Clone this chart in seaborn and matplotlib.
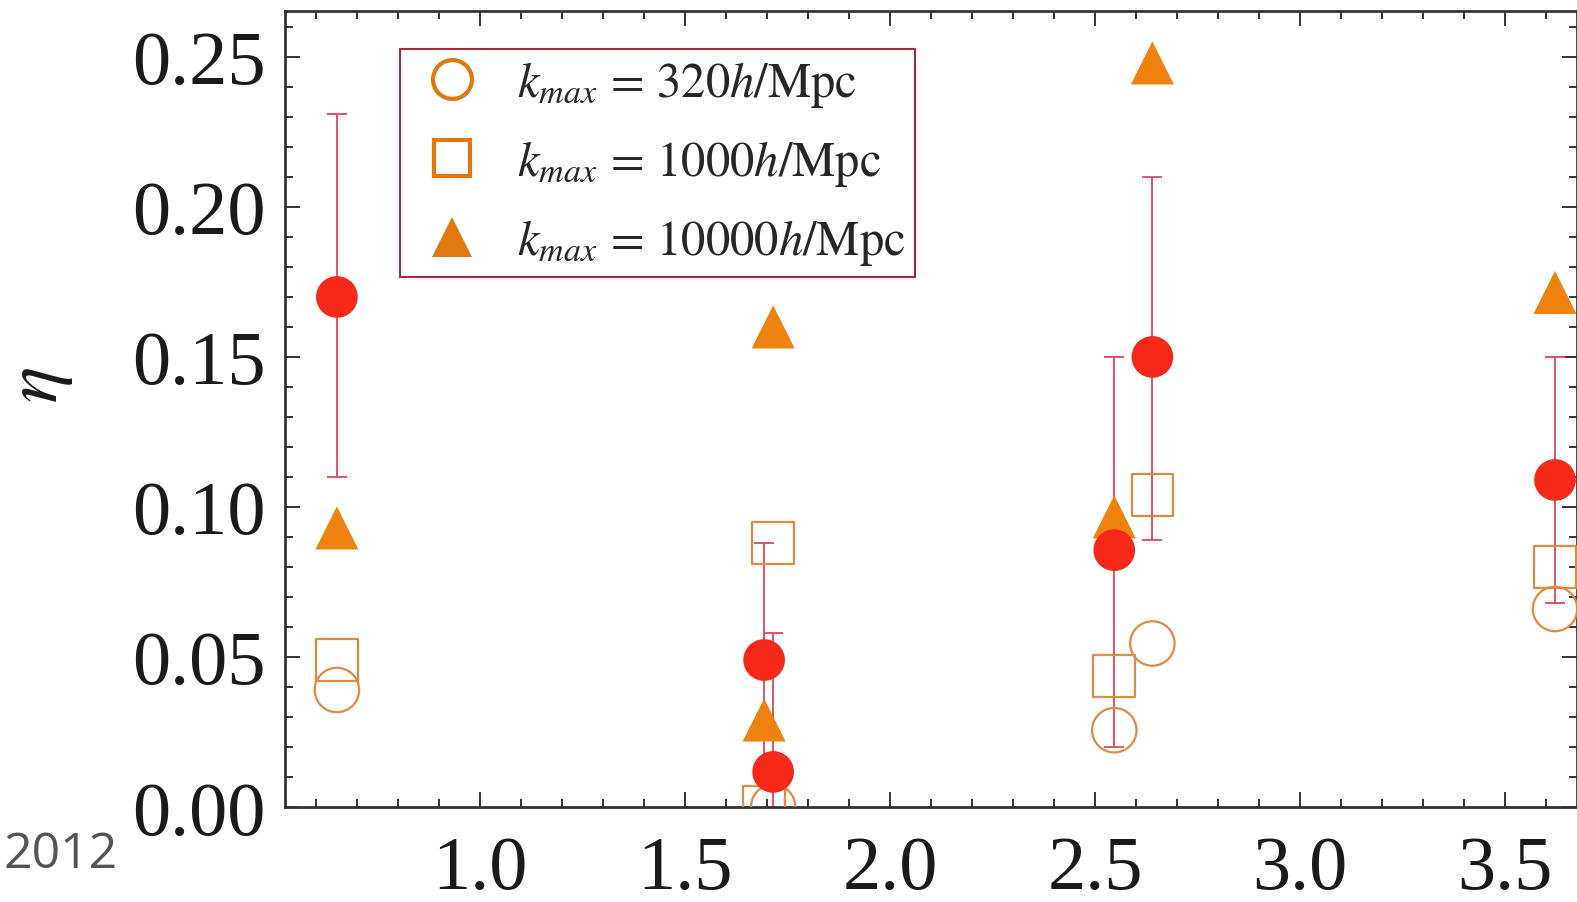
import numpy as np
import pandas as pd
import matplotlib
matplotlib.use("Agg")
import matplotlib.pyplot as plt
import seaborn as sns
from matplotlib.lines import Line2D
from matplotlib.ticker import MultipleLocator, FormatStrFormatter

# ---------------- data ----------------
x_pos      = [0.651, 1.693, 1.715, 2.547, 2.640, 3.622]
eta_data   = [0.170, 0.049, 0.0117, 0.0856, 0.150, 0.109]
eta_lo     = [0.110, 0.010, -0.030, 0.020, 0.089, 0.068]
eta_hi     = [0.231, 0.088, 0.058, 0.150, 0.210, 0.150]
eta_k320   = [0.039, np.nan, 0.000, 0.0256, 0.0545, 0.066]
eta_k1000  = [0.049, 0.000, 0.088, 0.0437, 0.104, 0.080]
eta_k10000 = [0.093, 0.029, 0.160, 0.0967, 0.248, 0.1715]

legend_labels = [r"$k_{max}\,=\,320h/\mathrm{Mpc}$",
                 r"$k_{max}\,=\,1000h/\mathrm{Mpc}$",
                 r"$k_{max}\,=\,10000h/\mathrm{Mpc}$"]
x_ticks = [1.0, 1.5, 2.0, 2.5, 3.0, 3.5]
y_ticks = [0.00, 0.05, 0.10, 0.15, 0.20, 0.25]
ylabel = r"$\eta$"
corner_text = "2012"

df = pd.DataFrame({"x": x_pos, "data": eta_data, "lo": eta_lo, "hi": eta_hi,
                   "k320": eta_k320, "k1000": eta_k1000, "k10000": eta_k10000})

# ---------------- style ----------------
sns.set_style("ticks")
plt.rcParams["font.family"] = ["Liberation Serif", "DejaVu Serif"]
plt.rcParams["mathtext.fontset"] = "stix"

RED = "#F7291A"
ERR = "#E45266"
ORANGE_FILL = "#F0820F"
ORANGE_EDGE = "#E08A45"
LEG_ORANGE = "#E07810"

W, H = 1577, 903
fig = plt.figure(figsize=(W / 100, H / 100), dpi=100)
ax = fig.add_axes([285 / W, 1 - 808 / H, (W - 285) / W, (808 - 12) / H])

# error bars of the data points
yerr = np.vstack([df["data"] - df["lo"], df["hi"] - df["data"]])
ax.errorbar(df["x"], df["data"], yerr=yerr, fmt="none", ecolor=ERR,
            elinewidth=1.4, capsize=7, capthick=1.4, zorder=2)

# model points
sns.scatterplot(data=df, x="x", y="k320", ax=ax, marker="o", s=32**2,
                color=ORANGE_EDGE, facecolor="none", edgecolor=ORANGE_EDGE,
                linewidth=1.6, zorder=3, legend=False)
sns.scatterplot(data=df, x="x", y="k1000", ax=ax, marker="s", s=30**2,
                color=ORANGE_EDGE, facecolor="none", edgecolor=ORANGE_EDGE,
                linewidth=1.6, zorder=3, legend=False)
sns.scatterplot(data=df, x="x", y="k10000", ax=ax, marker="^", s=31**2,
                color=ORANGE_FILL, edgecolor="none", linewidth=0,
                zorder=3, legend=False)
sns.scatterplot(data=df, x="x", y="data", ax=ax, marker="o", s=30**2,
                color=RED, edgecolor="none", linewidth=0, zorder=4,
                legend=False)

# axes
ax.set_xlim(1 - 195 / 410, 1 + 1097 / 410)
ax.set_ylim(0.0, 0.2653)
ax.set_xticks(x_ticks)
ax.set_yticks(y_ticks)
ax.xaxis.set_minor_locator(MultipleLocator(0.1))
ax.yaxis.set_minor_locator(MultipleLocator(0.01))
ax.xaxis.set_major_formatter(FormatStrFormatter("%.1f"))
ax.yaxis.set_major_formatter(FormatStrFormatter("%.2f"))
ax.tick_params(which="both", direction="in", top=True, right=True,
               color="#333333", width=1.4)
ax.tick_params(which="major", length=11, labelsize=55, labelcolor="#1a1a1a")
ax.tick_params(which="minor", length=6)
ax.tick_params(axis="x", which="major", pad=20)
ax.tick_params(axis="y", which="major", pad=14)
for sp in ax.spines.values():
    sp.set_color("#333333")
    sp.set_linewidth(2.0)

ax.set_xlabel("")
ax.set_ylabel(ylabel, fontsize=55, color="#1a1a1a")
ax.yaxis.set_label_coords((75 - 285) / (W - 285), 1 - (385 - 12) / (808 - 12))

# legend
handles = [
    Line2D([], [], ls="none", marker="o", markersize=28, mfc="none",
           mec=LEG_ORANGE, mew=3),
    Line2D([], [], ls="none", marker="s", markersize=26, mfc="none",
           mec=LEG_ORANGE, mew=3),
    Line2D([], [], ls="none", marker="^", markersize=29, mfc=LEG_ORANGE,
           mec=LEG_ORANGE, mew=0),
]
leg = ax.legend(handles, legend_labels, loc="upper left",
                bbox_to_anchor=((400 - 285) / (W - 285), 1 - (50 - 12) / (808 - 12)),
                borderaxespad=0, fontsize=35, frameon=True, fancybox=False,
                framealpha=1, edgecolor="#9E2E3C", handlelength=1.75,
                handletextpad=0.45, labelspacing=0.6, borderpad=0.2)
leg.get_frame().set_linewidth(1.5)

fig.text(0.002, 1 - 855 / H, corner_text, fontsize=36, color="#555555",
         family=["Open Sans", "DejaVu Sans"], ha="left", va="center")

fig.savefig("out.png", dpi=100)
